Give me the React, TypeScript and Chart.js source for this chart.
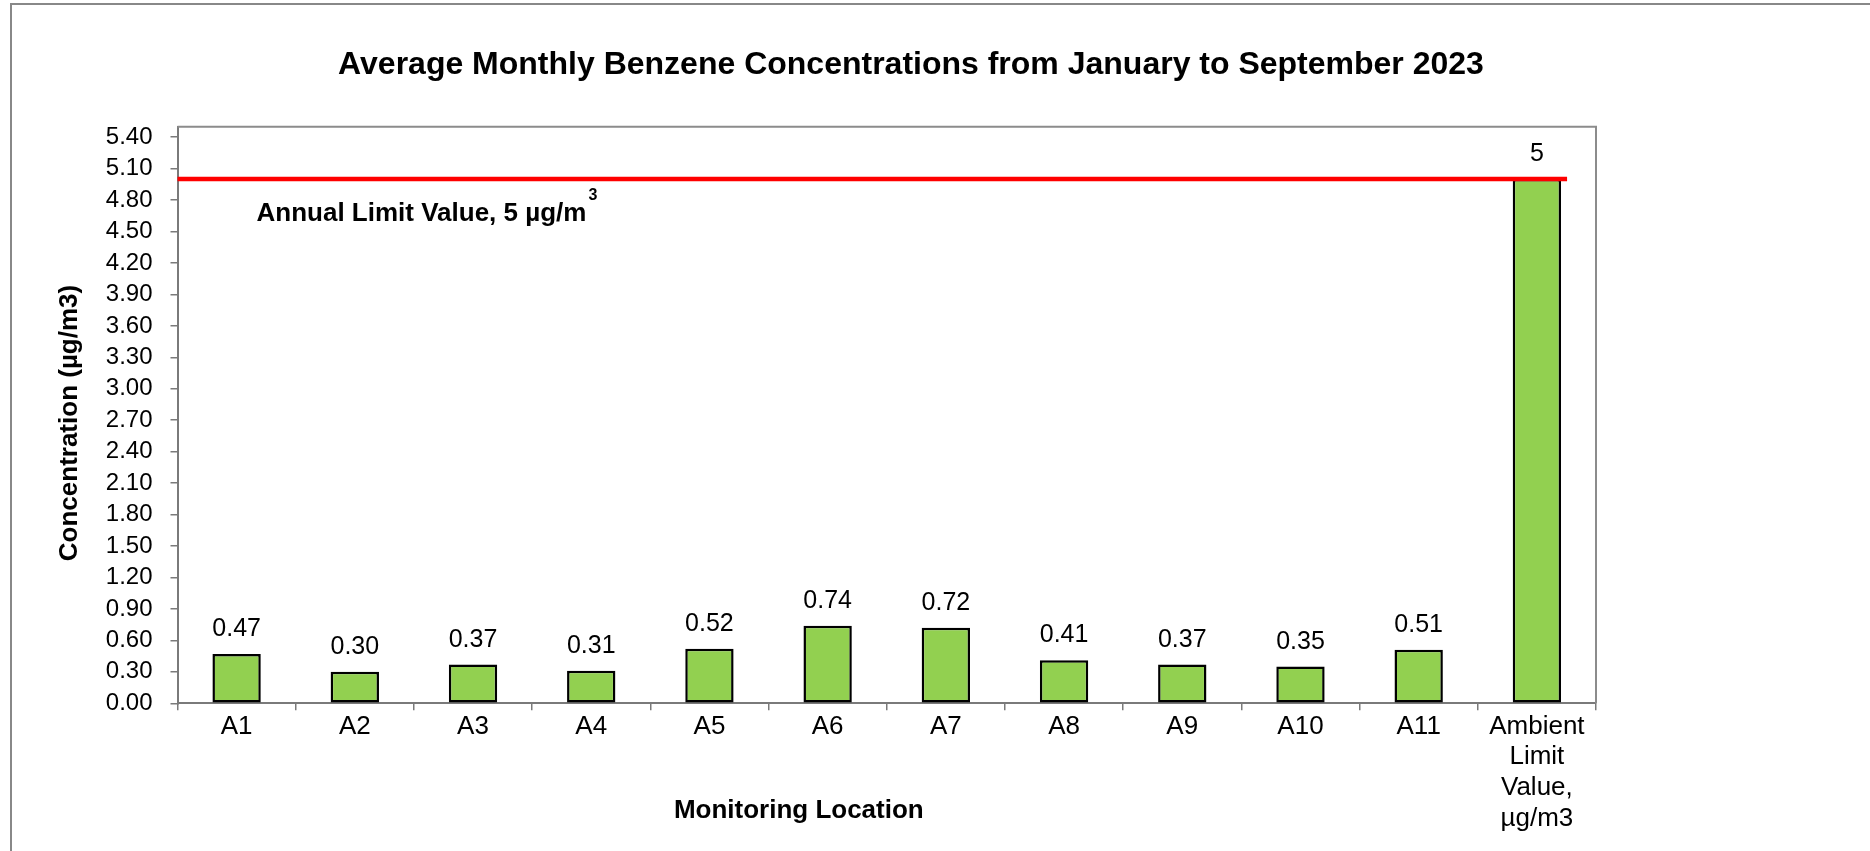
import React, { useEffect, useRef } from 'react';
import { Chart, registerables } from 'chart.js';

Chart.register(...registerables);

// ---- data ----
const categories: (string | string[])[] = [
  'A1', 'A2', 'A3', 'A4', 'A5', 'A6', 'A7', 'A8', 'A9', 'A10', 'A11',
  ['Ambient', 'Limit', 'Value,', 'µg/m3'],
];
const concentrations = [0.47, 0.30, 0.37, 0.31, 0.52, 0.74, 0.72, 0.41, 0.37, 0.35, 0.51, 5];
const annualLimit = 5;
const yMin = 0;
const yMax = 5.5;
const yTickStep = 0.3;

const chartTitle = 'Average Monthly Benzene Concentrations from January to September 2023';
const xAxisTitle = 'Monitoring Location';
const yAxisTitle = 'Concentration (µg/m3)';
const limitLabel = 'Annual Limit Value, 5 µg/m';
const limitLabelSup = '3';

const FAMILY = "Arial, 'Liberation Sans', sans-serif";

const fmt = (v: number) => (Number.isInteger(v) ? String(v) : v.toFixed(2));

const overlayPlugin = {
  id: 'overlay',
  beforeDatasetsDraw(chart: any) {
    const { ctx, chartArea: a } = chart;
    ctx.save();
    ctx.strokeStyle = '#8c8c8c';
    ctx.lineWidth = 2;
    ctx.beginPath();
    ctx.moveTo(a.left, a.top);
    ctx.lineTo(a.right, a.top);
    ctx.lineTo(a.right, a.bottom);
    ctx.stroke();
    ctx.restore();
  },
  afterDatasetsDraw(chart: any) {
    const { ctx, chartArea: a } = chart;
    const yS = chart.scales.y;
    const meta = chart.getDatasetMeta(0);
    const bars = meta.data;
    const last = bars[bars.length - 1];
    const yL = yS.getPixelForValue(annualLimit);

    ctx.save();
    // data labels
    ctx.fillStyle = '#000';
    ctx.font = `25px ${FAMILY}`;
    ctx.textAlign = 'center';
    ctx.textBaseline = 'alphabetic';
    bars.forEach((bar: any, i: number) => {
      ctx.fillText(fmt(concentrations[i]), bar.x, bar.y - 18);
    });

    // limit line
    ctx.strokeStyle = '#ff0000';
    ctx.lineWidth = 4.5;
    ctx.beginPath();
    ctx.moveTo(a.left, yL);
    ctx.lineTo(last.x + last.width / 2 + 6, yL);
    ctx.stroke();

    // limit annotation
    ctx.textAlign = 'left';
    ctx.font = `bold 26px ${FAMILY}`;
    const tx = a.left + 79;
    const ty = yL + 42;
    ctx.fillText(limitLabel, tx, ty);
    const w = ctx.measureText(limitLabel).width;
    ctx.font = `bold 16px ${FAMILY}`;
    ctx.fillText(limitLabelSup, tx + w + 2, ty - 21);

    // x-axis title
    ctx.font = `bold 26px ${FAMILY}`;
    ctx.textAlign = 'center';
    ctx.fillText(xAxisTitle, a.left + (a.right - a.left) * 0.438, a.bottom + 115);

    // y-axis title
    ctx.translate(69.6, (a.top + a.bottom) / 2 + 8);
    ctx.rotate(-Math.PI / 2);
    ctx.textBaseline = 'middle';
    ctx.fillText(yAxisTitle, 0, 0);
    ctx.restore();
  },
};

export default function App() {
  const ref = useRef<HTMLCanvasElement | null>(null);

  useEffect(() => {
    if (!ref.current) return;
    const chart = new Chart(ref.current, {
      type: 'bar',
      data: {
        labels: categories as any,
        datasets: [
          {
            data: concentrations,
            backgroundColor: '#92D050',
            borderColor: '#000000',
            borderWidth: 2.5,
            borderSkipped: false,
            barPercentage: 0.409,
            categoryPercentage: 1,
          },
        ],
      },
      options: {
        animation: false,
        responsive: false,
        maintainAspectRatio: false,
        devicePixelRatio: 1,
        layout: { padding: { left: 0, right: 48, top: 0, bottom: 0 } },
        plugins: {
          legend: { display: false },
          tooltip: { enabled: false },
          title: {
            display: true,
            text: chartTitle,
            color: '#000',
            font: { size: 32, weight: 'bold', family: FAMILY },
            padding: { top: 45.8, bottom: 42.5 },
          },
        },
        scales: {
          x: {
            afterFit: (s: any) => {
              s.height = 147.7;
            },
            ticks: {
              padding: 1,
              color: '#000',
              maxRotation: 0,
              autoSkip: false,
              font: { size: 26, family: FAMILY, lineHeight: 1.18 },
            },
            grid: { drawOnChartArea: false, tickLength: 7, color: '#7a7a7a', offset: true, lineWidth: 1.5 },
            border: { color: '#7a7a7a', width: 2 },
          },
          y: {
            min: yMin,
            max: yMax,
            afterFit: (s: any) => {
              s.width = 177.5;
            },
            afterBuildTicks: (s: any) => {
              s.ticks = s.ticks.filter(
                (t: any) => Math.abs(t.value / yTickStep - Math.round(t.value / yTickStep)) < 1e-6
              );
            },
            ticks: {
              stepSize: yTickStep,
              includeBounds: false,
              padding: 18,
              color: '#000',
              font: { size: 24, family: FAMILY },
              callback: (v: any) => Number(v).toFixed(2),
            },
            grid: { drawOnChartArea: false, tickLength: 7, color: '#7a7a7a', lineWidth: 1.5 },
            border: { color: '#7a7a7a', width: 2 },
          },
          yR: {
            type: 'linear',
            position: 'right',
            display: true,
            grid: { display: false },
            border: { display: false },
            ticks: { display: false },
            afterFit: (s: any) => {
              s.width = 226;
            },
          },
        },
      } as any,
      plugins: [overlayPlugin],
    });
    return () => chart.destroy();
  }, []);

  return (
    <div style={{ position: 'fixed', left: 0, top: 0, width: 1870, height: 851, background: '#fff', overflow: 'hidden' }}>
      <div
        style={{
          position: 'absolute',
          left: 10,
          top: 3,
          width: 1900,
          height: 900,
          borderTop: '2px solid #888',
          borderLeft: '2px solid #888',
        }}
      />
      <canvas ref={ref} width={1870} height={851} style={{ position: 'absolute', left: 0, top: 0 }} />
    </div>
  );
}
